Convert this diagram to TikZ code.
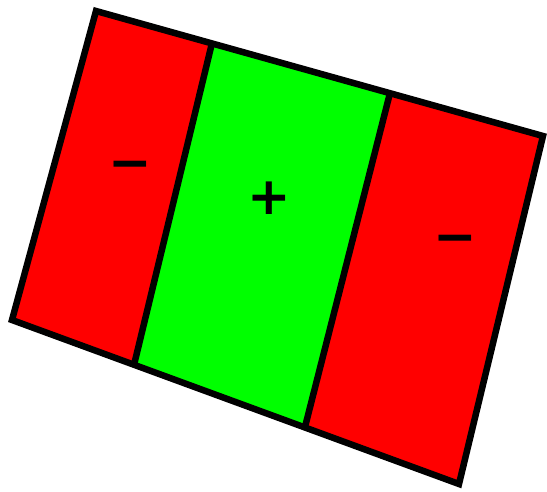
\documentclass[tikz,border=0pt]{standalone}
\usepackage{fontspec}
\newfontfamily\signfont{DejaVu Sans}
\definecolor{stripred}{RGB}{255,0,0}
\definecolor{stripgreen}{RGB}{0,255,0}
\tikzset{
  edge/.style={line width=6.5pt, black},
  sign/.style={font=\signfont\bfseries\fontsize{52}{52}\selectfont, inner sep=0pt}
}
\begin{document}
\begin{tikzpicture}[x=1pt, y=-1pt]
    \useasboundingbox (0,0) rectangle (547,492);
    % corners of the slab
    \coordinate (tl) at (96,11);
    \coordinate (tr) at (543,136);
    \coordinate (br) at (459,484);
    \coordinate (bl) at (12,320);
    % ends of the two dividers
    \coordinate (ta) at (212,43);
    \coordinate (tb) at (390,93);
    \coordinate (ba) at (134,365);
    \coordinate (bb) at (305,427);
    % strips
    \fill[stripred] (tl) -- (ta) -- (ba) -- (bl) -- cycle;
    \fill[stripgreen] (ta) -- (tb) -- (bb) -- (ba) -- cycle;
    \fill[stripred] (tb) -- (tr) -- (br) -- (bb) -- cycle;
    % outline and dividers
    \draw[edge] (tl) -- (tr) -- (br) -- (bl) -- cycle;
    \draw[edge] (ta) -- (ba);
    \draw[edge] (tb) -- (bb);
    % signs
    \node[sign] (lminus) at (130,171) {−};
    \node[sign] (plus) at (269,198) {+};
    \node[sign] (rminus) at (455,245) {−};
\end{tikzpicture}
\end{document}
